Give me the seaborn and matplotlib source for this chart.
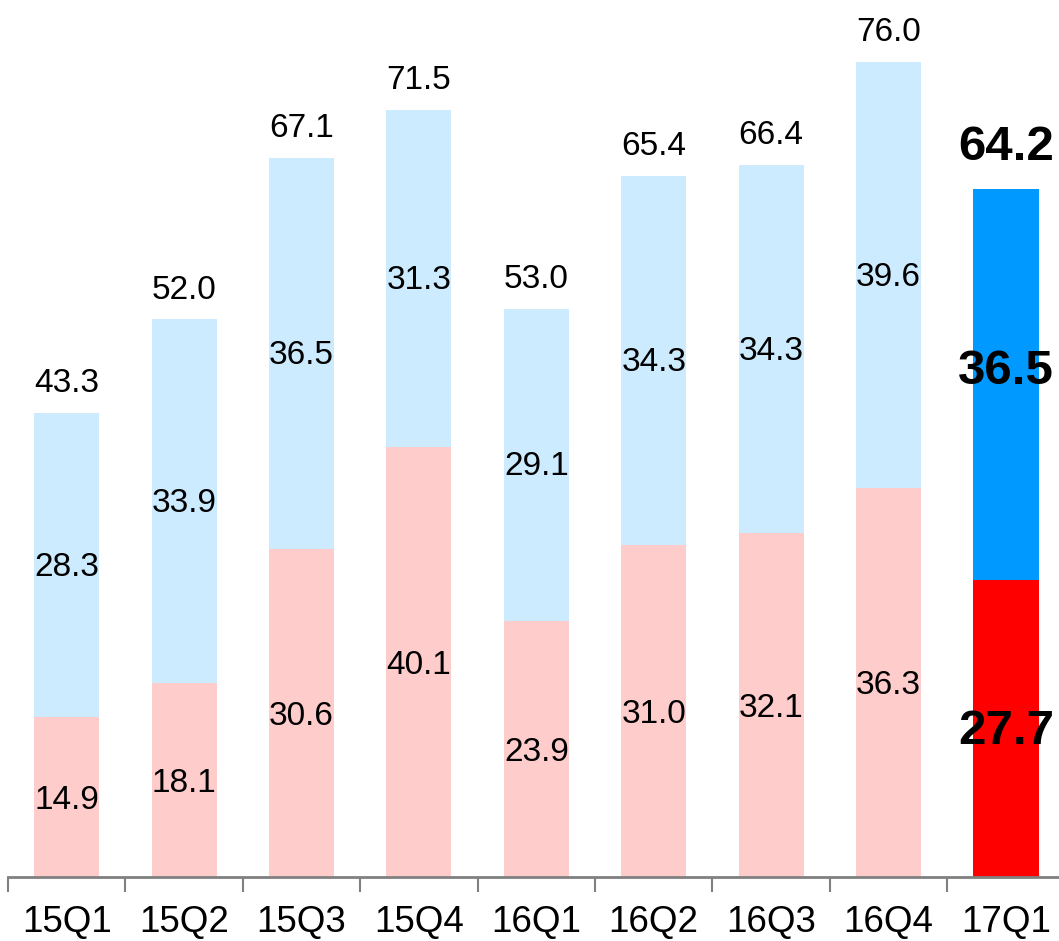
import matplotlib
matplotlib.use("Agg")
import matplotlib.pyplot as plt
import seaborn as sns
import pandas as pd

quarters = ["15Q1", "15Q2", "15Q3", "15Q4", "16Q1", "16Q2", "16Q3", "16Q4", "17Q1"]
lower_vals = [14.9, 18.1, 30.6, 40.1, 23.9, 31.0, 32.1, 36.3, 27.7]
upper_vals = [28.3, 33.9, 36.5, 31.3, 29.1, 34.3, 34.3, 39.6, 36.5]
totals = [43.3, 52.0, 67.1, 71.5, 53.0, 65.4, 66.4, 76.0, 64.2]

lower_colors = ["#FFCCCC"] * 8 + ["#FF0000"]
upper_colors = ["#CCEBFF"] * 8 + ["#0099FF"]

df = pd.DataFrame({"quarter": quarters, "lower": lower_vals,
                   "upper": upper_vals, "total": totals})

sns.set_theme(style="white")
plt.rcParams["font.family"] = ["Liberation Sans", "DejaVu Sans"]

fig = plt.figure(figsize=(10.59, 9.41), dpi=100)
ax = fig.add_axes([8 / 1059, 64 / 941, 1 - 8 / 1059 + 0.002, 877 / 941])

bw = 0.555
sns.barplot(data=df, x="quarter", y="total", hue="quarter", palette=upper_colors,
            legend=False, width=bw, saturation=1, ax=ax, linewidth=0)
sns.barplot(data=df, x="quarter", y="lower", hue="quarter", palette=lower_colors,
            legend=False, width=bw, saturation=1, ax=ax, linewidth=0)

ax.set_xlim(-0.5, 8.47)
ax.set_ylim(0, 81.8)

for i, q in enumerate(quarters):
    last = i == len(quarters) - 1
    fs = 35.5 if last else 24
    fw = "bold" if last else "normal"
    lo, up, tot = lower_vals[i], upper_vals[i], totals[i]
    ax.text(i, lo / 2 - 0.3, f"{lo:.1f}", ha="center", va="center", fontsize=fs,
            fontweight=fw, color="black")
    up_center = lo + (tot - lo) / 2 + (1.2 if last else -0.2)
    ax.text(i, up_center, f"{up:.1f}", ha="center", va="center", fontsize=fs,
            fontweight=fw, color="black")
    ax.text(i, tot + (3.8 if last else 2.75), f"{tot:.1f}", ha="center",
            va="center", fontsize=fs, fontweight=fw, color="black")

for side in ["top", "right", "left"]:
    ax.spines[side].set_visible(False)
ax.spines["bottom"].set_color("#808080")
ax.spines["bottom"].set_linewidth(2)
ax.set_yticks([])
ax.set_xlabel("")
ax.set_ylabel("")

ax.set_xticks(range(len(quarters)))
ax.set_xticklabels(quarters, fontsize=26.5)
ax.tick_params(axis="x", length=0, pad=20, colors="black")
# boundary ticks between categories
ax.set_xticks([k - 0.5 for k in range(len(quarters))], minor=True)
ax.tick_params(axis="x", which="minor", length=11, width=1.5, color="#808080",
               direction="out", bottom=True)

fig.savefig("out.png", dpi=100)
